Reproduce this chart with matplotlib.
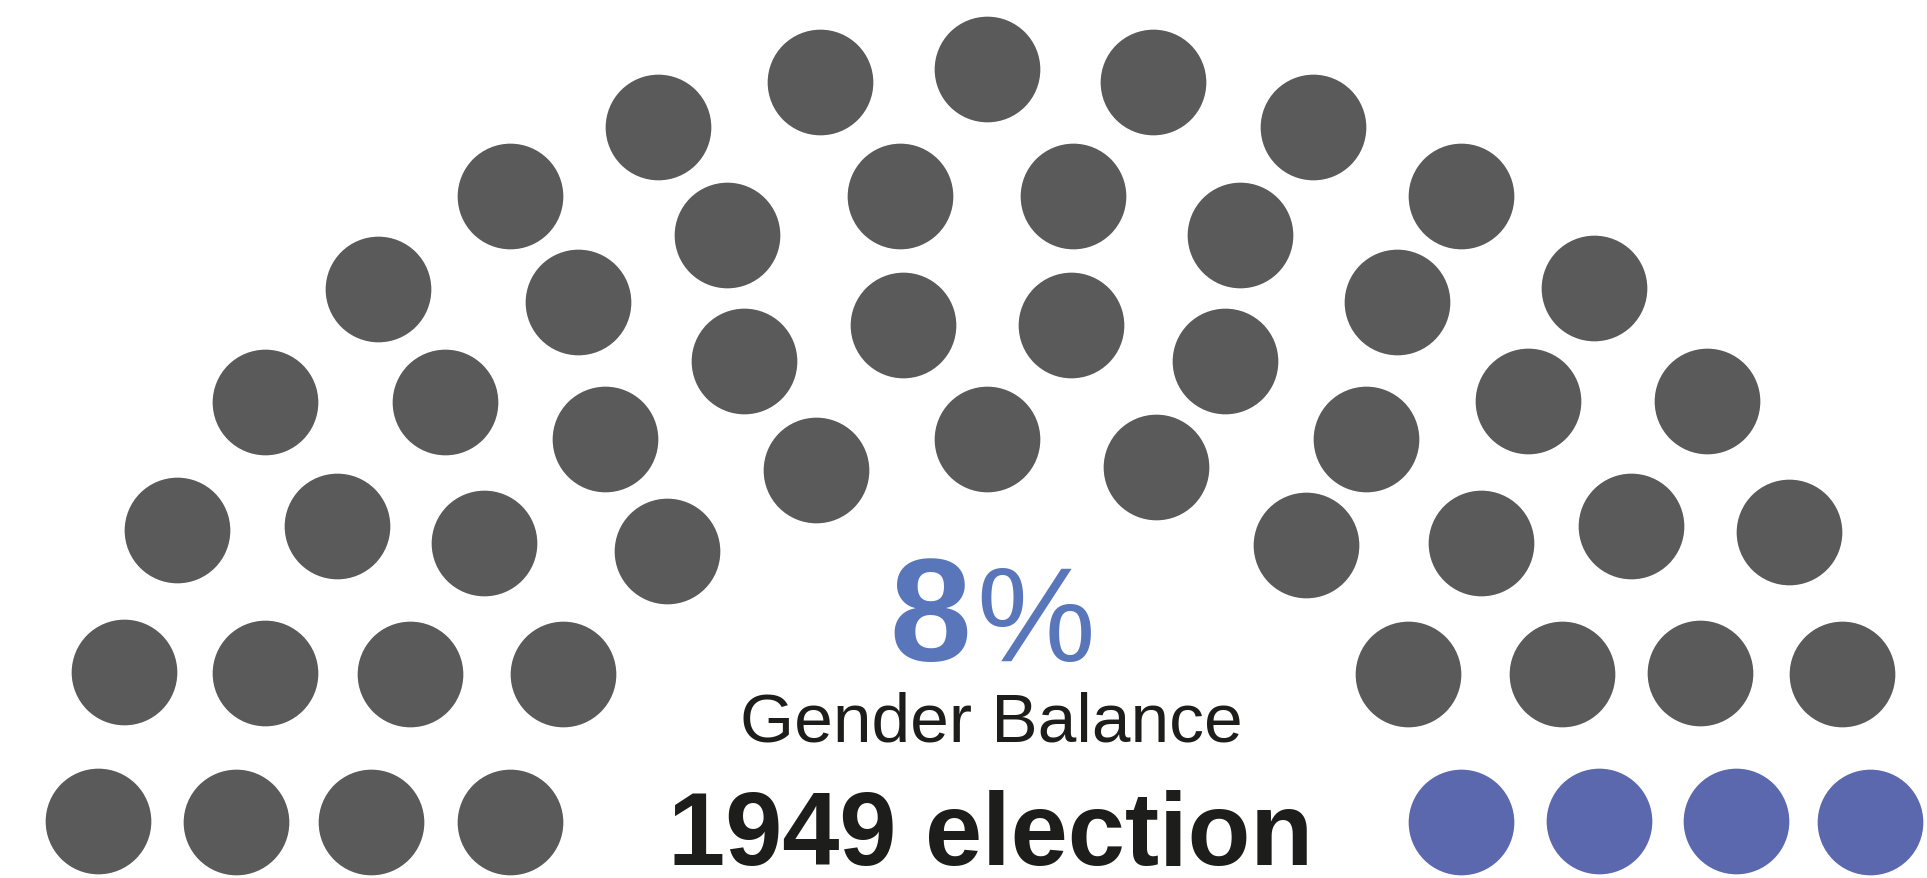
import matplotlib.pyplot as plt

# seat positions of the hemicycle (x to the right, y downward, in picture units)
seat_x = [98, 236, 371, 510,
          124, 265, 410, 563,
          177, 337, 484, 667,
          265, 445, 605,
          378, 578,
          510,
          658, 820, 727, 900, 744, 903, 816,
          987, 987,
          1153, 1073, 1071, 1156, 1313, 1240, 1225,
          1461,
          1397, 1594,
          1366, 1528, 1707,
          1306, 1481, 1631, 1789,
          1408, 1562, 1700, 1842,
          1461, 1599, 1736, 1870]
seat_y = [822, 823, 823, 823,
          673, 674, 675, 675,
          531, 527, 544, 552,
          403, 403, 440,
          290, 303,
          197,
          128, 83, 236, 197, 362, 326, 471,
          70, 440,
          83, 197, 326, 468, 128, 236, 362,
          197,
          303, 289,
          440, 402, 402,
          546, 544, 527, 533,
          675, 675, 674, 675,
          823, 822, 822, 823]
seat_group = ["men"] * 48 + ["women"] * 4

group_colors = {"men": "#5a5a5a", "women": "#5b68ad"}

share_num = "8"
share_sign = "%"
sub_label = "Gender Balance"
title_label = "1949 election"

W, H = 1927, 879
fig = plt.figure(figsize=(W / 100, H / 100), dpi=100)
ax = fig.add_axes([0, 0, 1, 1])
ax.set_xlim(0, W)
ax.set_ylim(H, 0)
ax.set_aspect("equal")
ax.axis("off")

for g, c in group_colors.items():
    xs = [x for x, gg in zip(seat_x, seat_group) if gg == g]
    ys = [y for y, gg in zip(seat_y, seat_group) if gg == g]
    ax.scatter(xs, ys, s=5790, color=c, linewidths=0, zorder=2)

blue_txt = "#5876b9"
font = "Liberation Sans"
ax.text(971, 661, share_num, ha="right", va="baseline", fontsize=106,
        fontfamily=font, fontweight="bold", color=blue_txt)
ax.text(976, 661, share_sign, ha="left", va="baseline", fontsize=96,
        fontfamily=font, color=blue_txt)
ax.text(991, 742, sub_label, ha="center", va="baseline", fontsize=50,
        fontfamily=font, color="#1d1d1b")
ax.text(991, 865, title_label, ha="center", va="baseline", fontsize=74,
        fontfamily=font, fontweight="bold", color="#1d1d1b")

fig.savefig("out.png", dpi=100, facecolor="white")
